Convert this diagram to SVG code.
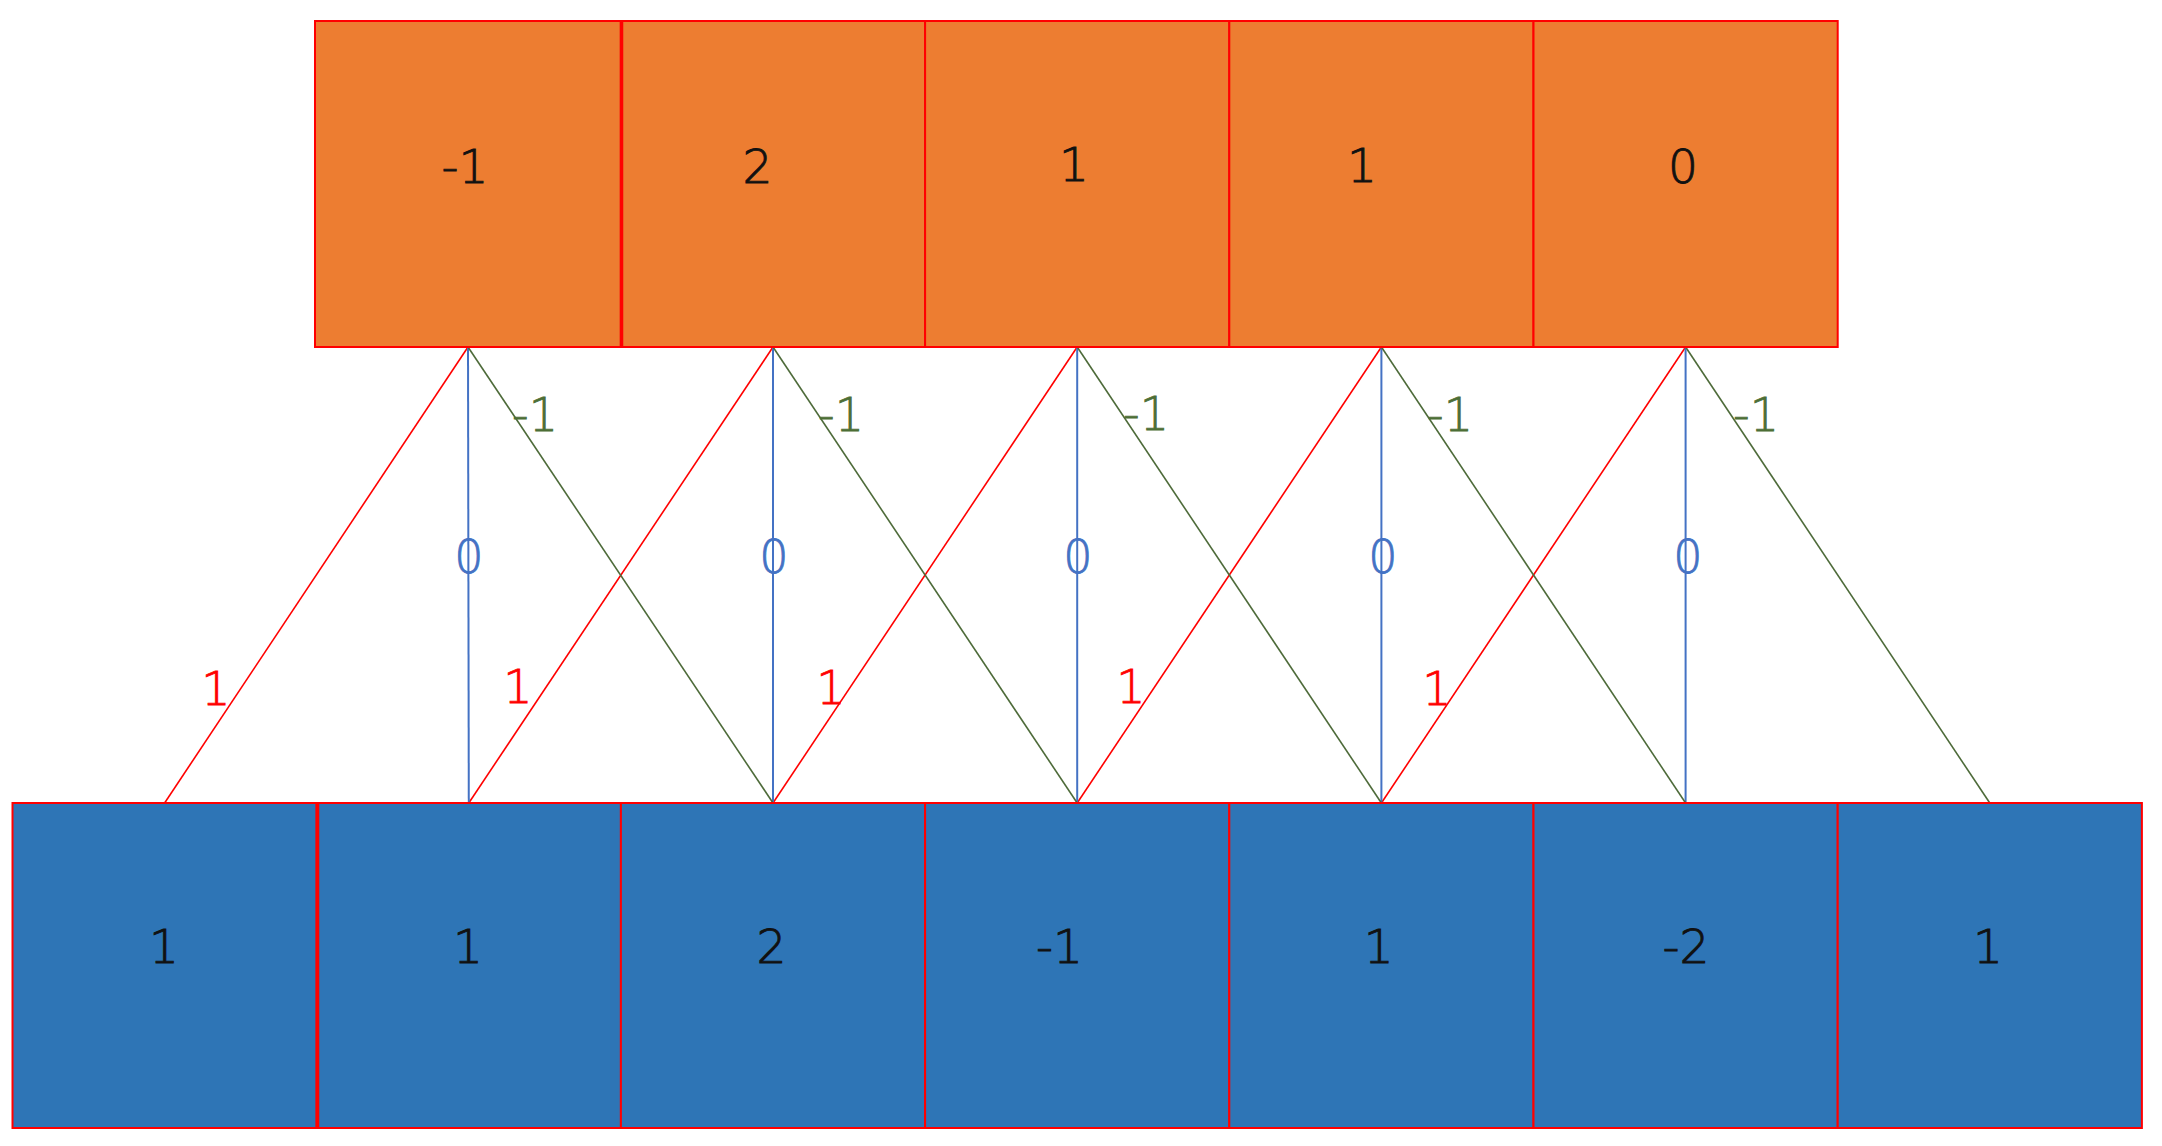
<svg xmlns="http://www.w3.org/2000/svg" width="2162" height="1146" viewBox="0 0 2162 1146">
<style>
  .top { fill: #ED7D31; stroke: #FF0000; stroke-width: 2; }
  .bot { fill: #2E75B6; stroke: #FF0000; stroke-width: 2; }
  .val { font-family: "DejaVu Sans", "Liberation Sans", sans-serif; font-weight: 200; font-size: 47px; fill: #111111; stroke: #111111; stroke-width: 0.9; text-anchor: middle; }
  .lbl { font-family: "DejaVu Sans", "Liberation Sans", sans-serif; font-weight: 200; font-size: 46px; stroke-width: 0.8; text-anchor: middle; }
  .r { stroke: #FF0000; stroke-width: 1.6; fill: none; }
  .b { stroke: #4472C4; stroke-width: 2; fill: none; }
  .g { stroke: #4E6B3A; stroke-width: 1.6; fill: none; }
  .rt { fill: #FF0000; stroke: #FF0000; }
  .bt { fill: #4472C4; stroke: #4472C4; }
  .gt { fill: #4C6E35; stroke: #4C6E35; }
  .thick { stroke: #FF0000; stroke-width: 3.5; }
</style>
<rect width="2162" height="1146" fill="#FFFFFF"/>

<g id="connectors">
  <line class="r" x1="468" y1="347" x2="164.6" y2="803"/>
  <line class="r" x1="773" y1="347" x2="468.8" y2="803"/>
  <line class="r" x1="1077.2" y1="347" x2="773" y2="803"/>
  <line class="r" x1="1381.4" y1="347" x2="1077.2" y2="803"/>
  <line class="r" x1="1685.6" y1="347" x2="1381.4" y2="803"/>

  <line class="b" x1="468" y1="347" x2="468.8" y2="803"/>
  <line class="b" x1="773" y1="347" x2="773" y2="803"/>
  <line class="b" x1="1077.2" y1="347" x2="1077.2" y2="803"/>
  <line class="b" x1="1381.4" y1="347" x2="1381.4" y2="803"/>
  <line class="b" x1="1685.6" y1="347" x2="1685.6" y2="803"/>

  <line class="g" x1="468" y1="347" x2="773" y2="803"/>
  <line class="g" x1="773" y1="347" x2="1077.2" y2="803"/>
  <line class="g" x1="1077.2" y1="347" x2="1381.4" y2="803"/>
  <line class="g" x1="1381.4" y1="347" x2="1685.6" y2="803"/>
  <line class="g" x1="1685.6" y1="347" x2="1989.8" y2="803"/>

  <text class="lbl gt" x="535" y="431">-1</text>
  <text class="lbl gt" x="841" y="431">-1</text>
  <text class="lbl gt" x="1146" y="430">-1</text>
  <text class="lbl gt" x="1450" y="431">-1</text>
  <text class="lbl gt" x="1756" y="431">-1</text>

  <text class="lbl bt" x="469" y="573">0</text>
  <text class="lbl bt" x="774" y="573">0</text>
  <text class="lbl bt" x="1078" y="573">0</text>
  <text class="lbl bt" x="1383" y="573">0</text>
  <text class="lbl bt" x="1688" y="573">0</text>

  <text class="lbl rt" x="216" y="705">1</text>
  <text class="lbl rt" x="518" y="703">1</text>
  <text class="lbl rt" x="831" y="704">1</text>
  <text class="lbl rt" x="1131" y="703">1</text>
  <text class="lbl rt" x="1437" y="705">1</text>
</g>

<g id="top-0"><rect class="top" x="315" y="21" width="307.5" height="326"/><text class="val" x="465" y="183">-1</text></g>
<g id="top-1"><rect class="top" x="620.9" y="21" width="304.2" height="326"/><line class="thick" x1="621.5" y1="21" x2="621.5" y2="347"/><text class="val" x="757.5" y="183">2</text></g>
<g id="top-2"><rect class="top" x="925.1" y="21" width="304.2" height="326"/><text class="val" x="1074" y="181">1</text></g>
<g id="top-3"><rect class="top" x="1229.3" y="21" width="304.2" height="326"/><text class="val" x="1362" y="182">1</text></g>
<g id="top-4"><rect class="top" x="1533.5" y="21" width="304.2" height="326"/><text class="val" x="1683" y="183">0</text></g>

<g id="bottom-0"><rect class="bot" x="12.5" y="803" width="304.2" height="325"/><text class="val" x="164" y="963">1</text></g>
<g id="bottom-1"><rect class="bot" x="316.7" y="803" width="304.2" height="325"/><line class="thick" x1="317.5" y1="803" x2="317.5" y2="1128"/><text class="val" x="468" y="963">1</text></g>
<g id="bottom-2"><rect class="bot" x="620.9" y="803" width="304.2" height="325"/><text class="val" x="771.5" y="963">2</text></g>
<g id="bottom-3"><rect class="bot" x="925.1" y="803" width="304.2" height="325"/><text class="val" x="1059.5" y="963">-1</text></g>
<g id="bottom-4"><rect class="bot" x="1229.3" y="803" width="304.2" height="325"/><text class="val" x="1378.6" y="963">1</text></g>
<g id="bottom-5"><rect class="bot" x="1533.5" y="803" width="304.2" height="325"/><text class="val" x="1686" y="963">-2</text></g>
<g id="bottom-6"><rect class="bot" x="1837.7" y="803" width="304.2" height="325"/><text class="val" x="1988" y="963">1</text></g>
</svg>
